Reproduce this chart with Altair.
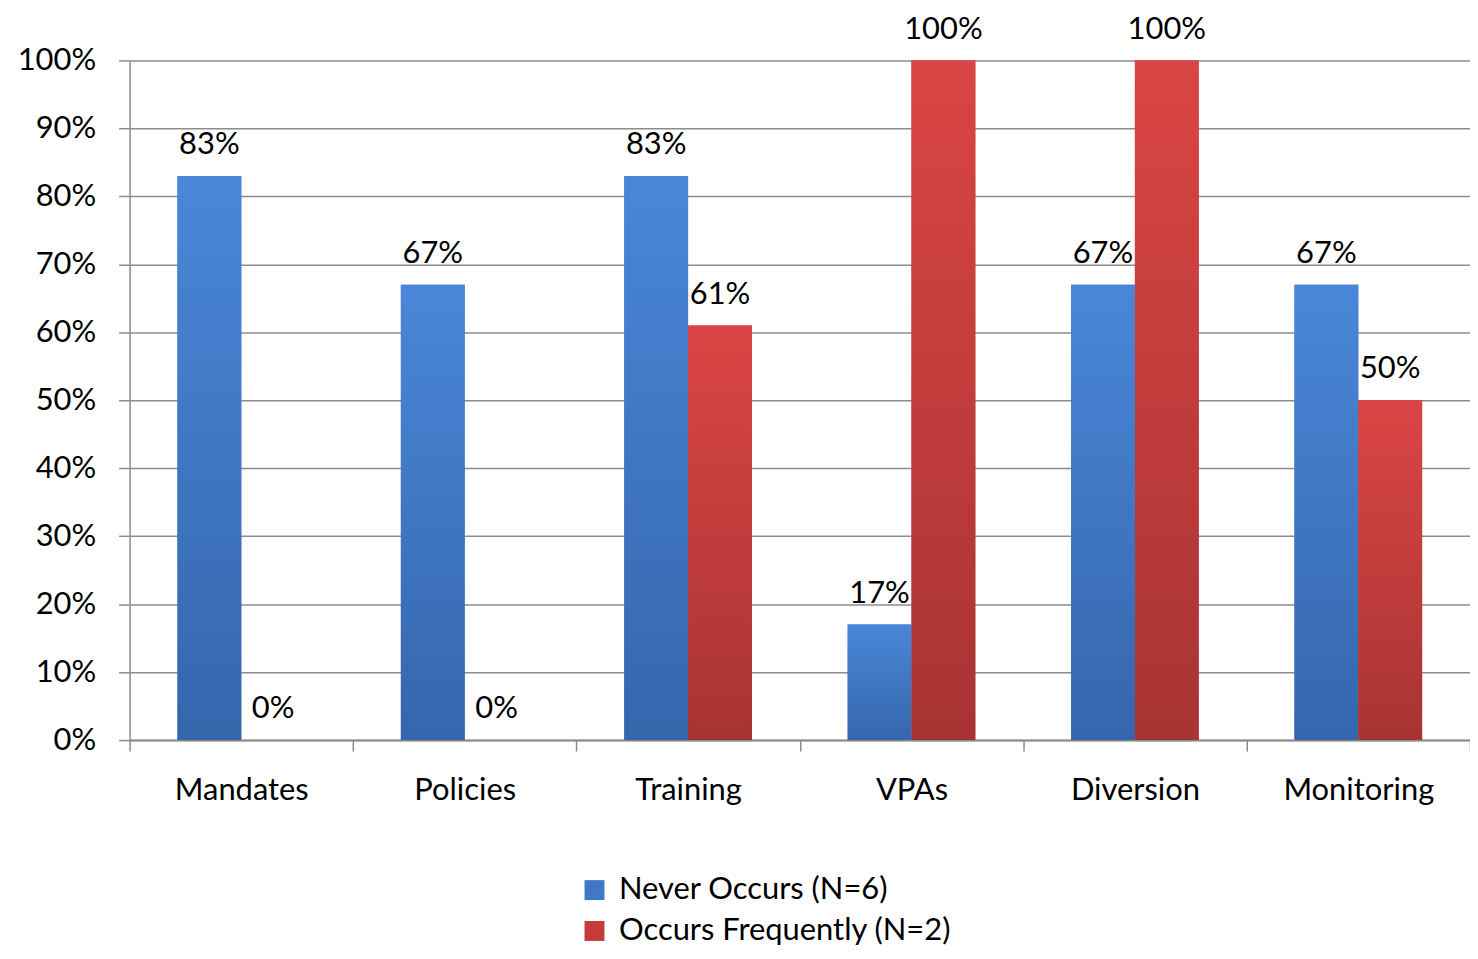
import altair as alt
import pandas as pd

categories = ["Mandates", "Policies", "Training", "VPAs", "Diversion", "Monitoring"]
never_occurs = [83, 67, 83, 17, 67, 67]
occurs_frequently = [0, 0, 61, 100, 100, 50]
series = ["Never Occurs (N=6)", "Occurs Frequently (N=2)"]
y_ticks = [0, 10, 20, 30, 40, 50, 60, 70, 80, 90, 100]

solid_colors = ["#3F78C6", "#C43B3A"]
blue_grad = {"gradient": "linear", "x1": 0, "y1": 0, "x2": 0, "y2": 1,
             "stops": [{"offset": 0, "color": "#4A87D8"}, {"offset": 1, "color": "#3566AC"}]}
red_grad = {"gradient": "linear", "x1": 0, "y1": 0, "x2": 0, "y2": 1,
            "stops": [{"offset": 0, "color": "#DA4545"}, {"offset": 1, "color": "#A83333"}]}

rows = []
for c, n, f in zip(categories, never_occurs, occurs_frequently):
    rows.append({"category": c, "series": series[0], "value": n})
    rows.append({"category": c, "series": series[1], "value": f})
df = pd.DataFrame(rows)

FONT = "Lato"
GRID = "#8c8c8c"

x = alt.X(
    "category:N", sort=categories,
    scale=alt.Scale(paddingInner=0, paddingOuter=0),
    axis=alt.Axis(title=None, labelAngle=0, tickBand="extent", tickSize=11,
                  tickColor=GRID, tickWidth=1.5, domainColor=GRID, domainWidth=2,
                  labelPadding=25, labelFont=FONT, labelFontSize=31,
                  labelColor="black", grid=False),
)
xo = alt.XOffset("series:N", sort=series,
                 scale=alt.Scale(paddingOuter=0.75, paddingInner=0))
y = alt.Y(
    "value:Q", scale=alt.Scale(domain=[0, 100]),
    axis=alt.Axis(title=None, values=y_ticks, labelExpr="datum.value + '%'",
                  tickSize=11, tickColor=GRID, tickWidth=1.5, domainColor=GRID,
                  domainWidth=1.5, gridColor=GRID, gridWidth=1.5, grid=True,
                  labelPadding=23, labelFont=FONT, labelFontSize=31,
                  labelColor="black"),
)

base = alt.Chart(df).encode(x=x, xOffset=xo, y=y)

bars = base.mark_bar().encode(
    color=alt.Color(
        "series:N", sort=series,
        scale=alt.Scale(domain=series, range=solid_colors),
        legend=alt.Legend(title=None, orient="none", legendX=451, legendY=817,
                          direction="vertical", symbolType="square",
                          symbolSize=400, symbolStrokeWidth=0,
                          labelFont=FONT, labelFontSize=31, labelColor="black",
                          labelOffset=9, rowPadding=9, padding=0,
                          labelLimit=500),
    )
)

grad_bars = base.mark_bar().encode(
    fill=alt.condition(alt.datum.series == series[0], alt.value(blue_grad), alt.value(red_grad))
)

labels = base.mark_text(font=FONT, fontSize=31, baseline="alphabetic", dy=-22,
                        color="black").encode(
    text="label:N"
).transform_calculate(label="datum.value + '%'")

chart = alt.layer(bars, grad_bars, labels).properties(
    width=1345, height=682,
    autosize=alt.AutoSizeParams(type="none"),
    padding={"left": 122, "top": 51, "right": 0, "bottom": 209},
).configure_view(stroke=None)

chart.save("out.html", embed_options={"renderer": "svg", "actions": False})
